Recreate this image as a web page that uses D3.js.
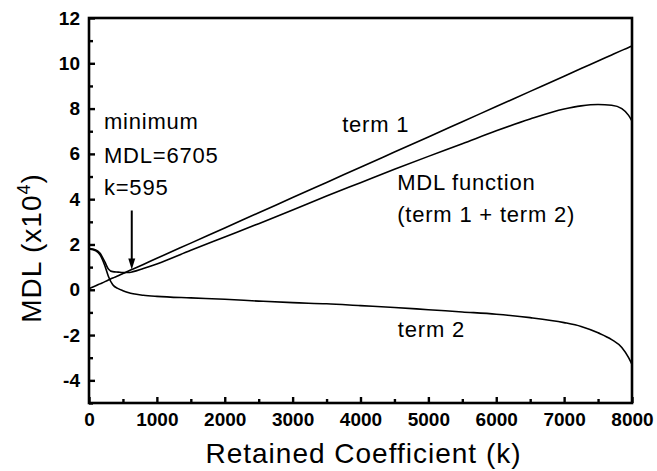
<!DOCTYPE html>
<html><head><meta charset="utf-8">
<script src="https://cdn.jsdelivr.net/npm/d3@7/dist/d3.min.js"></script>
<style>body{margin:0;background:#fff}svg{display:block}</style>
</head><body>
<svg id="c" width="657" height="471"></svg>
<script>
const kValues = [0,100,160,235,285,350,430,500,575,650,800,1000,1500,2000,2500,3000,3500,4000,4500,5000,5500,6000,6500,7000,7250,7500,7700,7850,7950,8000];
const term1 = [0.05,0.18,0.26,0.36,0.43,0.52,0.62,0.72,0.82,0.92,1.12,1.39,2.06,2.73,3.40,4.07,4.74,5.41,6.08,6.75,7.42,8.09,8.76,9.43,9.77,10.10,10.37,10.57,10.70,10.76];
const term2 = [1.80,1.72,1.55,1.05,0.60,0.22,0.05,-0.04,-0.12,-0.18,-0.24,-0.29,-0.36,-0.42,-0.50,-0.57,-0.62,-0.70,-0.78,-0.88,-0.98,-1.08,-1.23,-1.45,-1.62,-1.90,-2.20,-2.55,-3.00,-3.30];
const mdl   = [1.82,1.76,1.62,1.22,0.92,0.80,0.78,0.76,0.76,0.80,0.94,1.14,1.74,2.33,2.92,3.52,4.14,4.73,5.32,5.89,6.45,7.02,7.54,7.98,8.12,8.18,8.15,8.00,7.70,7.45];
const xMajor = [0,1000,2000,3000,4000,5000,6000,7000,8000];
const xMinor = [500,1500,2500,3500,4500,5500,6500,7500];
const yMajor = [-4,-2,0,2,4,6,8,10,12];
const yMinor = [-5,-3,-1,1,3,5,7,9,11];
const annotations = [
  {text:"minimum", k:220, v:7.1},
  {text:"MDL=6705", k:220, v:5.6},
  {text:"k=595", k:220, v:4.2},
  {text:"term 1", k:3730, v:6.95},
  {text:"MDL function", k:4540, v:4.4},
  {text:"(term 1 + term 2)", k:4540, v:3.0},
  {text:"term 2", k:4550, v:-2.1}
];
const arrow = {k:630, from:3.5, to:0.9};

const svg = d3.select("#c");
const L=89, R=632, T=18, B=403;
const x = d3.scaleLinear().domain([0,8000]).range([L,R]);
const y = d3.scaleLinear().domain([-5,12]).range([B,T]);

// data lines
const line = vals => d3.line().x((d,i)=>x(kValues[i])).y(d=>y(d)).curve(d3.curveMonotoneX)(vals);
[term1, term2, mdl].forEach(vals=>{
  svg.append("path").attr("d", line(vals)).attr("fill","none").attr("stroke","#000").attr("stroke-width",1.6);
});

// frame
svg.append("rect").attr("x",L).attr("y",T).attr("width",R-L).attr("height",B-T)
  .attr("fill","none").attr("stroke","#000").attr("stroke-width",2.6);

// axes
const fontTick = "'Liberation Sans', Arial, sans-serif";
const fmt = d => String(d);
const gx = svg.append("g").attr("transform",`translate(0,${B})`)
  .call(d3.axisBottom(x).tickValues(xMajor).tickSize(-6).tickPadding(10).tickFormat(fmt));
const gxm = svg.append("g").attr("transform",`translate(0,${B})`)
  .call(d3.axisBottom(x).tickValues(xMinor).tickSize(-4).tickFormat(""));
const gy = svg.append("g").attr("transform",`translate(${L},0)`)
  .call(d3.axisLeft(y).tickValues(yMajor).tickSize(-6).tickPadding(9).tickFormat(fmt));
const gym = svg.append("g").attr("transform",`translate(${L},0)`)
  .call(d3.axisLeft(y).tickValues(yMinor).tickSize(-4).tickFormat(""));
[gx,gxm,gy,gym].forEach(g=>{
  g.select(".domain").remove();
  g.selectAll("line").attr("stroke","#000").attr("stroke-width",2.4);
  g.selectAll("text").attr("fill","#000").style("font-family",fontTick).style("font-weight","bold").style("font-size","19px");
});

// axis titles
svg.append("text").attr("x",(L+R)/2+3).attr("y",463).attr("text-anchor","middle")
  .style("font-family",fontTick).style("font-size","28px").style("letter-spacing","1px")
  .text("Retained Coefficient (k)");
const yt = svg.append("text").attr("transform","translate(41,248) rotate(-90)").attr("text-anchor","middle")
  .style("font-family",fontTick).style("font-size","28px").style("letter-spacing","1px");
yt.append("tspan").text("MDL (x10");
yt.append("tspan").attr("dy",-11).style("font-size","18px").text("4");
yt.append("tspan").attr("dy",11).text(")");

// annotations
annotations.forEach(a=>{
  svg.append("text").attr("x",x(a.k)).attr("y",y(a.v))
    .style("font-family",fontTick).style("font-size","22px").style("letter-spacing","0.8px")
    .text(a.text);
});

// arrow
svg.append("line").attr("x1",x(arrow.k)).attr("x2",x(arrow.k)).attr("y1",y(arrow.from)).attr("y2",y(arrow.to)-8)
  .attr("stroke","#000").attr("stroke-width",2);
const ax = x(arrow.k), ay = y(arrow.to);
svg.append("path").attr("d",`M${ax-3.5},${ay-11}L${ax+3.5},${ay-11}L${ax},${ay}Z`).attr("fill","#000");
</script>
</body></html>
